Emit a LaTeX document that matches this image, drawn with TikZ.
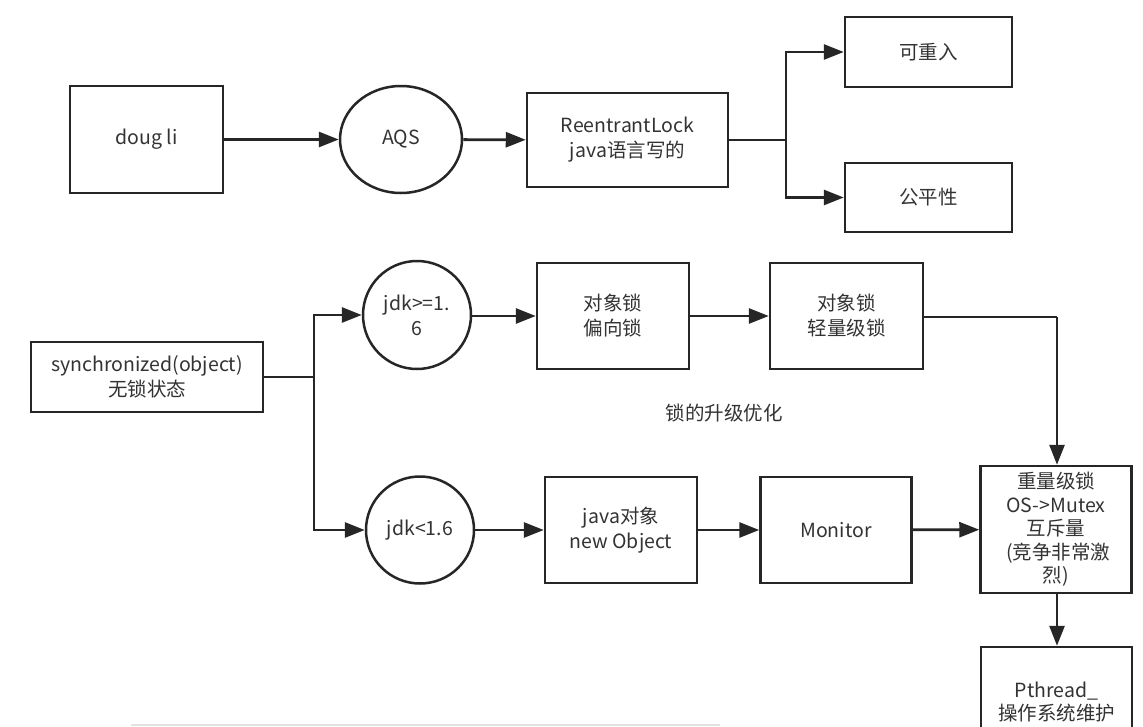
\documentclass[tikz,border=0pt]{standalone}
\usepackage{fontspec}
\setmainfont{Noto Sans CJK SC}
\usetikzlibrary{arrows.meta,shapes.geometric}
\definecolor{ink}{HTML}{262626}
\definecolor{txt}{HTML}{333333}
\definecolor{rule}{HTML}{E2E2E2}
\begin{document}
\begin{tikzpicture}[x=1pt,y=-1pt,
  every node/.style={font=\fontsize{19.5}{25}\selectfont, text=txt, align=center, inner sep=0pt},
  box/.style={draw=ink, line width=2.5pt, rectangle},
  oval/.style={draw=ink, line width=2.5pt, ellipse},
  link/.style={draw=ink, line width=2.8pt},
  arr/.style={link, -{Triangle[length=20pt,width=15pt]}},
]
\useasboundingbox (0,0) rectangle (1143,726);
\clip (0,0) rectangle (1143,726);
\fill[white] (0,0) rectangle (1143,726);

% ReentrantLock branch
\node[box, minimum width=153pt, minimum height=107pt] (doug) at (146.5,139.5) {doug li};
\node[oval, minimum width=122pt, minimum height=107pt] (aqs) at (401,139.5) {AQS};
\node[box, minimum width=201pt, minimum height=94pt] (rl) at (627.5,140) {ReentrantLock\\java语言写的};
\node[box, minimum width=167pt, minimum height=70pt] (kcr) at (928.5,52) {可重入};
\node[box, minimum width=167pt, minimum height=69pt] (gpx) at (928.5,197.5) {公平性};

\draw[arr] (doug) -- (aqs);
\draw[arr] (aqs) -- (rl);
\coordinate (rsplit) at (786,140);
\draw[link] (rl.east) -- (rsplit);
\draw[arr] (rsplit) |- (kcr.west);
\draw[arr] (rsplit) |- (gpx.west);

% synchronized branch
\node[box, minimum width=232pt, minimum height=70pt] (sync) at (147,377) {synchronized(object)\\无锁状态};
\node[oval, minimum width=108pt, minimum height=108pt] (jdka) at (417,315) {jdk>=1.\\6};
\node[box, minimum width=152pt, minimum height=106pt] (pxs) at (613,316) {对象锁\\偏向锁};
\node[box, minimum width=153pt, minimum height=106pt] (qlj) at (846.5,316) {对象锁\\轻量级锁};
\node[oval, minimum width=108pt, minimum height=107pt] (jdkb) at (420,530) {jdk<1.6};
\node[box, minimum width=152pt, minimum height=106pt] (jobj) at (621,530) {java对象\\new Object};
\node[box, minimum width=151pt, minimum height=106pt] (mon) at (836,530) {Monitor};
\node[box, minimum width=151pt, minimum height=127pt, font=\fontsize{19.5}{23.5}\selectfont] (zlj) at (1056,529.5)
  {重量级锁\\OS->Mutex\\互斥量\\\ (竞争非常激\\烈)};
\node[box, minimum width=151pt, minimum height=170pt] (pth) at (1056.5,732) {};
\node[font=\fontsize{19.5}{23}\selectfont] (pthtxt) at (1056.5,702) {Pthread\_\\操作系统维护};
\node (upg) at (724,413) {锁的升级优化};

\coordinate (ssplit) at (314,377);
\draw[link] (sync.east) -- (ssplit);
\draw[arr] (ssplit) |- (jdka.west);
\draw[arr] (ssplit) |- (jdkb.west);
\draw[arr] (jdka.east |- pxs) -- (pxs);
\draw[arr] (pxs) -- (qlj);
\coordinate (qturn) at (1057,317);
\draw[link] (qlj.east |- qturn) -- (qturn);
\draw[arr] (qturn) -- (zlj.north -| qturn);
\draw[arr] (jdkb) -- (jobj);
\draw[arr] (jobj) -- (mon);
\draw[arr] (mon) -- (zlj);
\draw[arr] (zlj.south -| qturn) -- (pth.north -| qturn);

% scrollbar edge along the bottom
\draw[rule, line width=1.5pt] (131,725) -- (720,725);
\end{tikzpicture}
\end{document}
